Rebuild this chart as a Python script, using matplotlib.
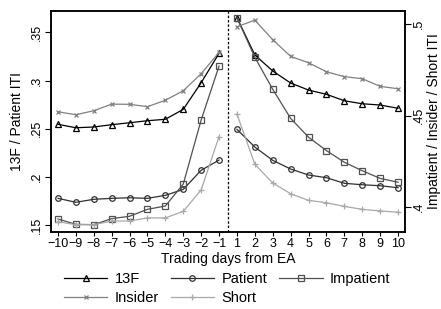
import numpy as np
import matplotlib.pyplot as plt

plt.rcParams['font.family'] = ['Liberation Sans', 'DejaVu Sans']

# trading days relative to earnings announcement (day 0 omitted)
days = [-10, -9, -8, -7, -6, -5, -4, -3, -2, -1, 1, 2, 3, 4, 5, 6, 7, 8, 9, 10]
day_labels = ["\u2212%d" % -d if d < 0 else str(d) for d in days]

# left axis series
itf_13f = [0.2546, 0.2510, 0.2518, 0.2542, 0.2562, 0.2583, 0.2598, 0.2701, 0.2977, 0.3282,
           0.3651, 0.3265, 0.3099, 0.2974, 0.2901, 0.2857, 0.2790, 0.2759, 0.2746, 0.2712]
patient = [0.1778, 0.1737, 0.1768, 0.1778, 0.1784, 0.1778, 0.1809, 0.1871, 0.2069, 0.2175,
           0.2494, 0.2310, 0.2172, 0.2082, 0.2020, 0.1992, 0.1934, 0.1919, 0.1909, 0.1888]

# right axis series
impatient = [0.3936, 0.3907, 0.3905, 0.3938, 0.3951, 0.3989, 0.4007, 0.4127, 0.4477, 0.4772,
             0.5036, 0.4820, 0.4645, 0.4486, 0.4383, 0.4310, 0.4246, 0.4200, 0.4158, 0.4137]
insider = [0.4522, 0.4506, 0.4528, 0.4564, 0.4563, 0.4550, 0.4585, 0.4637, 0.4730, 0.4847,
           0.4987, 0.5023, 0.4916, 0.4825, 0.4790, 0.4741, 0.4714, 0.4703, 0.4661, 0.4648]
short = [0.3921, 0.3905, 0.3905, 0.3925, 0.3925, 0.3942, 0.3942, 0.3978, 0.4095, 0.4387,
         0.4510, 0.4235, 0.4133, 0.4074, 0.4038, 0.4025, 0.4005, 0.3989, 0.3980, 0.3973]

pos = np.arange(len(days))
pre = pos < 10
post = ~pre

fig = plt.figure(figsize=(4.41, 3.09), dpi=100)
ax = fig.add_axes([0.1156, 0.2492, 0.8028, 0.7152])
ax2 = ax.twinx()

def draw(axis, y, color, marker, ms, label):
    y = np.asarray(y)
    kw = dict(color=color, lw=0.9, marker=marker, ms=ms, mew=0.9,
              mfc='none' if marker in ('^', 'o', 's') else color, mec=color)
    line, = axis.plot(pos[pre], y[pre], label=label, **kw)
    axis.plot(pos[post], y[post], **kw)
    return line

h1 = draw(ax, itf_13f, 'black', '^', 4, '13F')
h2 = draw(ax, patient, '#303030', 'o', 4, 'Patient')
h3 = draw(ax2, impatient, '#505050', 's', 4, 'Impatient')
h4 = draw(ax2, insider, '#808080', 'x', 3.5, 'Insider')
h5 = draw(ax2, short, '#a8a8a8', '+', 5, 'Short')

ax.axvline(9.5, color='black', ls=(0, (2, 1.5)), lw=0.9)

ax.set_xlim(-0.39, 19.39)
ax.set_ylim(0.1429, 0.3721)
ax2.set_ylim(0.3865, 0.5073)

ax.set_xticks(pos)
ax.set_xticklabels(day_labels, fontsize=9)
ax.set_yticks([0.15, 0.2, 0.25, 0.3, 0.35])
ax.set_yticklabels(['.15', '.2', '.25', '.3', '.35'], rotation=90, va='center', fontsize=9)
ax2.set_yticks([0.4, 0.45, 0.5])
ax2.set_yticklabels(['.4', '.45', '.5'], rotation=90, va='center', fontsize=9)

ax.tick_params(axis='x', length=3, pad=1)
ax.tick_params(axis='y', length=4, pad=2)
ax2.tick_params(axis='y', length=4, pad=2)

ax.set_xlabel("Trading days from EA", fontsize=10, labelpad=2)
ax.set_ylabel("13F / Patient ITI", fontsize=10, labelpad=5)
ax2.set_ylabel("Impatient / Insider / Short ITI", fontsize=10, labelpad=1)

for a in (ax, ax2):
    for s in a.spines.values():
        s.set_linewidth(1.1)

# row-major order: 13F, Patient, Impatient / Insider, Short
handles = [h1, h4, h2, h5, h3]
labels = ['13F', 'Insider', 'Patient', 'Short', 'Impatient']
fig.legend(handles, labels,
           loc='lower center', bbox_to_anchor=(0.515, -0.03), ncol=3, frameon=False,
           fontsize=10.5, handlelength=3.0, columnspacing=0.8, handletextpad=0.5,
           labelspacing=0.35)

fig.savefig("out.png", dpi=100)
